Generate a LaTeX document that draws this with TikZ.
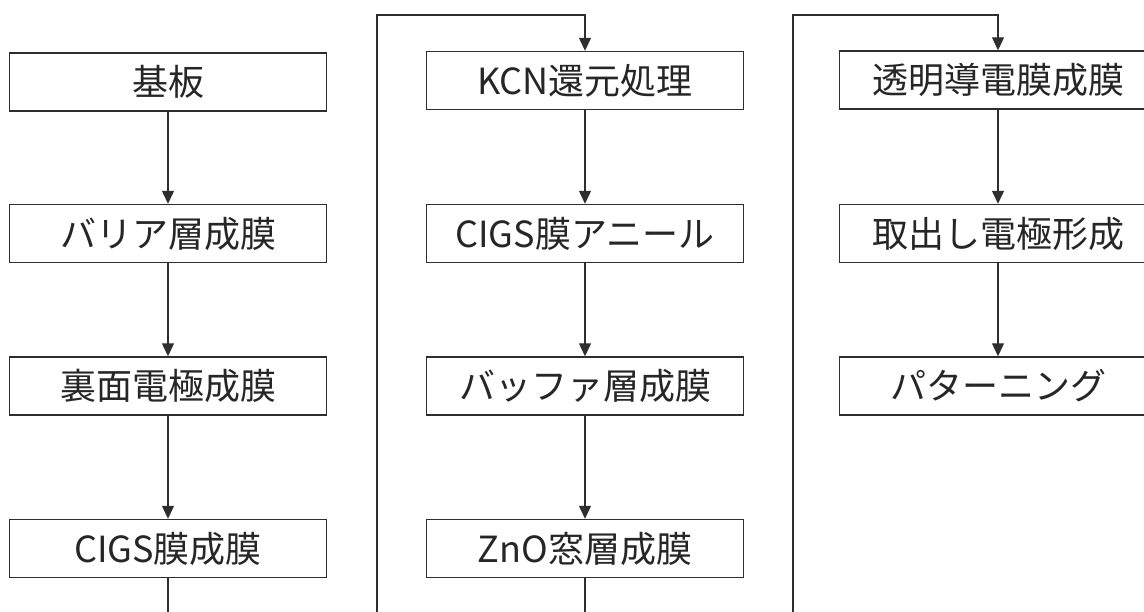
\documentclass[tikz,border=0pt]{standalone}
\usepackage{fontspec}
\setmainfont{Noto Sans CJK JP}
\usetikzlibrary{arrows.meta}
\definecolor{ln}{HTML}{2E2E2E}
\definecolor{tx}{HTML}{262626}
\tikzset{
  stepbox/.style={draw=ln, line width=1.4pt, fill=white, minimum width=317pt, minimum height=58pt,
    inner sep=0pt, text=tx, font=\fontsize{36pt}{40pt}\selectfont},
  conn/.style={draw=ln, line width=1.2pt, -{Triangle[length=13pt,width=12pt]}},
  wire/.style={draw=ln, line width=1.2pt}
}
\begin{document}
\begin{tikzpicture}[x=1pt,y=-1pt]
\useasboundingbox (0,0) rectangle (1144,612);
\clip (0,0) rectangle (1144,612);
% column 1
\node[stepbox] (a1) at (168,82) {基板};
\node[stepbox] (a2) at (168,233.5) {バリア層成膜};
\node[stepbox] (a3) at (168,386) {裏面電極成膜};
\node[stepbox] (a4) at (168,548.5) {CIGS膜成膜};
% column 2
\node[stepbox] (b1) at (585,80.5) {KCN還元処理};
\node[stepbox] (b2) at (585,233.5) {CIGS膜アニール};
\node[stepbox] (b3) at (585,386) {バッファ層成膜};
\node[stepbox] (b4) at (585,548.5) {ZnO窓層成膜};
% column 3
\node[stepbox] (c1) at (998,80) {透明導電膜成膜};
\node[stepbox] (c2) at (998,233.5) {取出し電極形成};
\node[stepbox] (c3) at (998,386) {パターニング};
% coordinates
\coordinate (a4end) at (168,640);
\coordinate (b4end) at (585,640);
\coordinate (l2s) at (377,640);
\coordinate (l2t) at (377,15);
\coordinate (l3s) at (793,640);
\coordinate (l3t) at (793,15);
% connectors
\draw[conn] (a1) -- (a2);
\draw[conn] (a2) -- (a3);
\draw[conn] (a3) -- (a4);
\draw[wire] (a4) -- (a4end);
\draw[conn] (l2s) -- (l2t) -| (b1.north);
\draw[conn] (b1) -- (b2);
\draw[conn] (b2) -- (b3);
\draw[conn] (b3) -- (b4);
\draw[wire] (b4) -- (b4end);
\draw[conn] (l3s) -- (l3t) -| (c1.north);
\draw[conn] (c1) -- (c2);
\draw[conn] (c2) -- (c3);
\end{tikzpicture}
\end{document}
